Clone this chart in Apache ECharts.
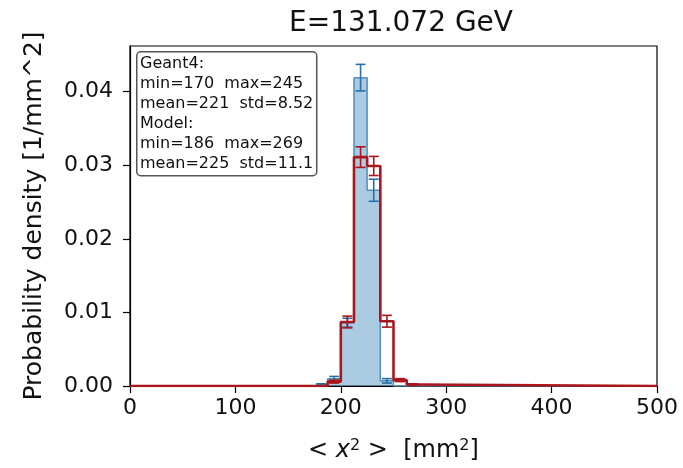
<!DOCTYPE html>
<html>
<head>
<meta charset="utf-8">
<script src="https://cdn.jsdelivr.net/npm/echarts@6/dist/echarts.min.js"></script>
<style>
  html, body { margin: 0; padding: 0; background: #fff; }
  #chart { width: 683px; height: 468px; }
</style>
</head>
<body>
<div id="chart"></div>
<script>
// histogram bins (lower edge), width 12.5 mm^2
var binLo = [175, 187.5, 200, 212.5, 225, 237.5, 250, 262.5];
var binWidth = 12.5;
var geant4 = [0.0002, 0.0010, 0.0086, 0.0419, 0.0266, 0.0007, 0, 0];
var geant4Err = [0.0001, 0.0003, 0.0006, 0.0018, 0.0015, 0.0003, 0, 0];
var model = [0, 0.0006, 0.0087, 0.0311, 0.0299, 0.0088, 0.0008, 0.0002];
var modelErr = [0, 0.0002, 0.0008, 0.0014, 0.0013, 0.0008, 0.0002, 0.0001];
var xTicks = [0, 100, 200, 300, 400, 500];
var yTicks = [0, 0.01, 0.02, 0.03, 0.04];
var statLines = ['Geant4:', 'min=170  max=245', 'mean=221  std=8.52',
                 'Model:', 'min=186  max=269', 'mean=225  std=11.1'];

var FONT = 'DejaVu Sans';
var BLUE_FILL = 'rgba(31,119,180,0.38)';
var BLUE_EDGE = '#5f94c2';
var BLUE_ERR = '#2b6fa6';
var RED = '#aa161b';

var barData = binLo.map(function (lo, i) { return [lo, lo + binWidth, geant4[i]]; });
var errG = binLo.map(function (lo, i) { return [lo + binWidth / 2, geant4[i], geant4Err[i]]; })
  .filter(function (d) { return d[1] > 0; });
var errM = binLo.map(function (lo, i) { return [lo + binWidth / 2, model[i], modelErr[i]]; })
  .filter(function (d) { return d[1] > 0; });

// step outlines that run along the whole x range
var xMin = xTicks[0], xMax = xTicks[xTicks.length - 1];
function stepLine(vals) {
  var pts = [[xMin, 0]];
  binLo.forEach(function (lo, i) { pts.push([lo, vals[i]]); });
  pts.push([binLo[binLo.length - 1] + binWidth, 0]);
  pts.push([xMax, 0]);
  return pts;
}

function errRender(color) {
  return function (params, api) {
    var x = api.value(0), y = api.value(1), e = api.value(2);
    var top = api.coord([x, y + e]), bot = api.coord([x, y - e]);
    var cap = 5;
    var st = { stroke: color, lineWidth: 1.6 };
    return {
      type: 'group',
      children: [
        { type: 'line', shape: { x1: top[0], y1: top[1], x2: bot[0], y2: bot[1] }, style: st },
        { type: 'line', shape: { x1: top[0] - cap, y1: top[1], x2: top[0] + cap, y2: top[1] }, style: st },
        { type: 'line', shape: { x1: bot[0] - cap, y1: bot[1], x2: bot[0] + cap, y2: bot[1] }, style: st }
      ]
    };
  };
}

var chart = echarts.init(document.getElementById('chart'));
chart.setOption({
  backgroundColor: '#fff',
  animation: false,
  title: {
    text: 'E=131.072 GeV',
    left: 396, top: 5, textAlign: 'center',
    textStyle: { fontFamily: FONT, fontSize: 28, fontWeight: 'normal', color: '#111' }
  },
  grid: { left: 130, right: 26, top: 46, bottom: 81, show: true, borderColor: '#000', borderWidth: 1.2, backgroundColor: 'transparent' },
  xAxis: {
    type: 'value', min: xMin, max: xMax, interval: 100,
    name: '< {i|x}{s|2} >  [mm{s|2}]',
    nameLocation: 'middle', nameGap: 52,
    nameTextStyle: {
      fontFamily: FONT, fontSize: 24, color: '#111',
      rich: {
        i: { fontFamily: FONT, fontSize: 24, fontStyle: 'italic', color: '#111' },
        s: { fontFamily: FONT, fontSize: 16, color: '#111', verticalAlign: 'top', padding: [0, 0, 10, 0] }
      }
    },
    axisLine: { show: true, onZero: false, lineStyle: { color: '#000', width: 1.2 } },
    axisTick: { show: true, length: 7, lineStyle: { color: '#000', width: 1.2 } },
    splitLine: { show: false },
    axisLabel: { fontFamily: FONT, fontSize: 22, color: '#111', margin: 11 }
  },
  yAxis: {
    type: 'value', min: 0, max: 0.0462,
    name: 'Probability density [1/mm^2]',
    nameLocation: 'middle', nameGap: 83,
    nameTextStyle: { fontFamily: FONT, fontSize: 25, color: '#111' },
    axisLine: { show: true, lineStyle: { color: '#000', width: 1.2 } },
    axisTick: { show: true, length: 7, customValues: yTicks, lineStyle: { color: '#000', width: 1.2 } },
    splitLine: { show: false },
    axisLabel: {
      fontFamily: FONT, fontSize: 22, color: '#111', margin: 17,
      customValues: yTicks,
      formatter: function (v) { return v.toFixed(2); }
    }
  },
  series: [
    {
      type: 'line', data: stepLine(geant4), step: 'end', symbol: 'none',
      lineStyle: { color: BLUE_EDGE, width: 1.5 }, z: 1
    },
    {
      type: 'custom', data: barData, z: 2,
      renderItem: function (params, api) {
        var p0 = api.coord([api.value(0), api.value(2)]);
        var p1 = api.coord([api.value(1), 0]);
        return {
          type: 'rect',
          shape: { x: p0[0], y: p0[1], width: p1[0] - p0[0], height: p1[1] - p0[1] },
          style: { fill: BLUE_FILL }
        };
      }
    },
    { type: 'custom', data: errG, renderItem: errRender(BLUE_ERR), z: 3 },
    {
      type: 'line', data: stepLine(model), step: 'end', symbol: 'none',
      lineStyle: { color: RED, width: 2.6 }, z: 4
    },
    { type: 'custom', data: errM, renderItem: errRender(RED), z: 5 }
  ],
  graphic: [
    {
      type: 'rect', left: 136, top: 51, z: 10,
      shape: { width: 180, height: 124, r: 4 },
      style: { fill: 'rgba(255,255,255,0.85)', stroke: '#555', lineWidth: 1.5 }
    },
    {
      type: 'text', left: 140, top: 54, z: 11,
      style: {
        text: statLines.join('\n'),
        fontFamily: FONT, fontSize: 16, lineHeight: 20, fill: '#111'
      }
    }
  ]
});
</script>
</body>
</html>
